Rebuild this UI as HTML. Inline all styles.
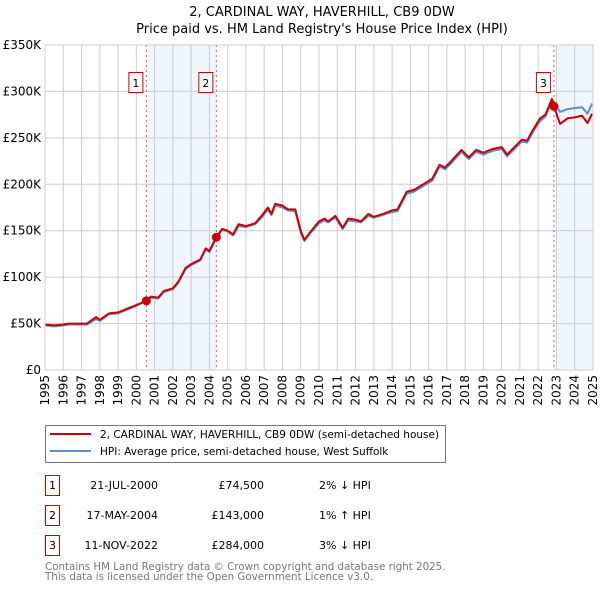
<!DOCTYPE html>
<html><head><meta charset="utf-8"><style>
body{margin:0;background:#fff;}
svg{display:block;font-family:"DejaVu Sans","Liberation Sans",sans-serif;}
</style></head><body>
<svg id="c" width="600" height="590" xmlns="http://www.w3.org/2000/svg">
<text x="322" y="16" text-anchor="middle" font-size="13">2, CARDINAL WAY, HAVERHILL, CB9 0DW</text>
<text x="322" y="33" text-anchor="middle" font-size="13">Price paid vs. HM Land Registry's House Price Index (HPI)</text>
<g id="plot"></g>
<g>
<rect x="45.5" y="425.5" width="400" height="37" fill="#fff" stroke="#777"/>
<line x1="50" y1="434" x2="91" y2="434" stroke="#cc0000" stroke-width="2"/>
<text x="100" y="438" font-size="10.5">2, CARDINAL WAY, HAVERHILL, CB9 0DW (semi-detached house)</text>
<line x1="50" y1="451" x2="91" y2="451" stroke="#5b8fd0" stroke-width="2"/>
<text x="100" y="455" font-size="10.5">HPI: Average price, semi-detached house, West Suffolk</text>
</g>
<g font-size="11">
<rect x="45.5" y="475.5" width="14" height="20" fill="none" stroke="#cc0000"/><text x="52.5" y="489" text-anchor="middle">1</text>
<text x="158" y="489" text-anchor="end">21-JUL-2000</text><text x="264" y="489" text-anchor="end">£74,500</text><text x="319" y="489">2% ↓ HPI</text>
<rect x="45.5" y="505.5" width="14" height="20" fill="none" stroke="#cc0000"/><text x="52.5" y="519" text-anchor="middle">2</text>
<text x="158" y="519" text-anchor="end">17-MAY-2004</text><text x="264" y="519" text-anchor="end">£143,000</text><text x="319" y="519">1% ↑ HPI</text>
<rect x="45.5" y="535.5" width="14" height="20" fill="none" stroke="#cc0000"/><text x="52.5" y="549" text-anchor="middle">3</text>
<text x="158" y="549" text-anchor="end">11-NOV-2022</text><text x="264" y="549" text-anchor="end">£284,000</text><text x="319" y="549">3% ↓ HPI</text>
</g>
<text x="45" y="570" font-size="10.3" fill="#777">Contains HM Land Registry data © Crown copyright and database right 2025.</text>
<text x="45" y="580" font-size="10.3" fill="#777">This data is licensed under the Open Government Licence v3.0.</text>
</svg>
<script>
const years=[1995,1995.5,1996,1996.3,1997,1997.3,1997.8,1998,1998.5,1999,1999.5,2000,2000.55,2000.8,2001.2,2001.5,2002,2002.3,2002.7,2003,2003.5,2003.8,2004,2004.38,2004.7,2005,2005.3,2005.6,2006,2006.5,2006.9,2007.2,2007.4,2007.6,2008,2008.3,2008.7,2009,2009.2,2009.5,2010,2010.3,2010.5,2010.9,2011.3,2011.6,2012,2012.3,2012.7,2013,2013.5,2014,2014.3,2014.8,2015.2,2015.7,2016.2,2016.6,2016.9,2017.3,2017.8,2018.2,2018.6,2019,2019.5,2020,2020.3,2020.7,2021.1,2021.4,2021.7,2022.1,2022.4,2022.75,2022.86,2023.2,2023.6,2024,2024.4,2024.7,2024.95];
const pricePaid=[49,48,49,50,50,50,57,54,61,62,66,70,74.5,79,78,85,88,95,110,114,119,131,128,143,152,150,146,157,155,158,167,175,168,179,177,173,173,150,140,148,160,163,160,166,153,163,162,160,168,165,168,172,173,192,194,200,206,221,218,226,237,229,237,234,238,240,232,240,248,247,258,271,275,292,284,265,271,272,274,266,276];
const hpi=[48,47,48,49,49,49,55,53,60,61,65,69,75,78,77,84,87,94,109,113,118,130,127,142,151,149,145,155,154,157,165,173,167,177,175,172,171,148,139,147,158,161,159,164,152,161,160,159,166,164,167,170,171,190,192,198,204,219,216,224,235,227,235,232,236,238,230,238,246,245,256,268,273,290,288,278,281,282,283,276,287];
const yTicks=[0,50,100,150,200,250,300,350];
const sales=[[2000.55,74.5,"1"],[2004.38,143,"2"],[2022.86,284,"3"]];
const L=45,R=593,T=45,B=370,Y0=1995,Y1=2025;
const X=y=>L+(y-Y0)/(Y1-Y0)*(R-L);
const Y=v=>B-v/350*(B-T);
const ns="http://www.w3.org/2000/svg";
const g=document.getElementById('plot');
function mk(t,a){const e=document.createElementNS(ns,t);for(const k in a)e.setAttribute(k,a[k]);g.appendChild(e);return e;}
let e;
e=mk('rect',{x:X(sales[0][0]),y:T,width:X(sales[1][0])-X(sales[0][0]),height:B-T,fill:'#f1f5fd'});


e=mk('rect',{x:X(2023),y:T,width:R-X(2023),height:B-T,fill:'#f1f5fd'});


for(const v of yTicks){
 e=mk('line',{x1:L,x2:R,y1:Y(v),y2:Y(v),stroke:'#ccc'});
 
 
 e=mk('text',{x:L-4,y:Y(v)+4,'text-anchor':'end','font-size':12});e.textContent=v===0?'£0':'£'+v+'K';
 
 
}
for(let y=Y0;y<=Y1;y++){
 e=mk('line',{x1:X(y),x2:X(y),y1:T,y2:B,stroke:'#ccc'});
 
 
 e=mk('text',{transform:`translate(${X(y)+4},${B+5}) rotate(-90)`,'text-anchor':'end','font-size':12});e.textContent=y;
 
 
}
for(const s of sales){
 e=mk('line',{x1:X(s[0]),x2:X(s[0]),y1:T,y2:B,stroke:'#f05050','stroke-dasharray':'2,3'});
 
 
}
function path(arr,col,name){
 const d=arr.map((v,i)=>(i?'L':'M')+X(years[i]).toFixed(1)+','+Y(v).toFixed(1)).join('');
 e=mk('path',{d:d,fill:'none',stroke:col,'stroke-width':2,'stroke-linejoin':'round'});
 
 
}
path(hpi,'#5b8fd0','hpi-line');
path(pricePaid,'#cc0000','price-paid-line');
for(const s of sales){
 e=mk('circle',{cx:X(s[0]),cy:Y(s[1]),r:4.5,fill:'#cc0000'});
 
 
 e=mk('rect',{x:X(s[0])-17.5,y:72.5,width:14,height:20,fill:'#fff',stroke:'#cc0000'});
 
 
 e=mk('text',{x:X(s[0])-10.5,y:87,'text-anchor':'middle','font-size':11});e.textContent=s[2];
 
 
}
e=mk('rect',{x:L,y:T,width:R-L,height:B-T,fill:'none',stroke:'#ccc'});


</script>
</body></html>
